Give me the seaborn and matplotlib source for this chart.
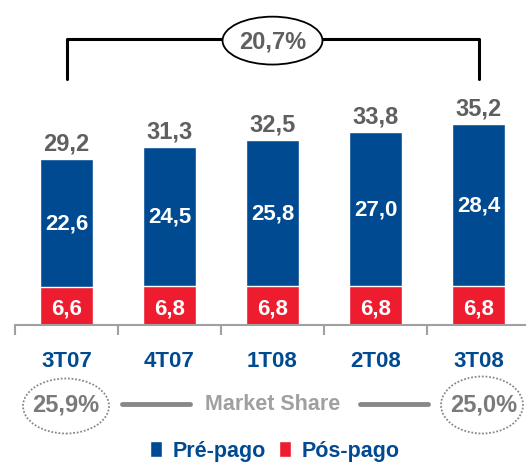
import matplotlib
matplotlib.use("Agg")
import matplotlib.pyplot as plt
from matplotlib.patches import Ellipse, Patch
from matplotlib.lines import Line2D
import seaborn as sns

# data
quarters = ["3T07", "4T07", "1T08", "2T08", "3T08"]
pre_pago = [22.6, 24.5, 25.8, 27.0, 28.4]
pos_pago = [6.6, 6.8, 6.8, 6.8, 6.8]
totals = [29.2, 31.3, 32.5, 33.8, 35.2]
growth_label = "20,7%"
share_first = "25,9%"
share_last = "25,0%"

BLUE = "#004a91"
RED = "#ed1c2e"
DARK_GRAY = "#5f5f5f"
LIGHT_GRAY = "#a0a0a0"


def fmt(v):
    return f"{v:.1f}".replace(".", ",")


def fx(x):
    return x / 526


def fy(y):
    return 1 - y / 464


sns.set_style("white")
plt.rcParams["font.family"] = ["Liberation Sans", "DejaVu Sans"]
plt.rcParams["font.weight"] = "bold"

fig = plt.figure(figsize=(5.26, 4.64), dpi=100)
ax = fig.add_axes([15 / 526, 138 / 464, 515 / 526, 326 / 464])

sns.barplot(x=quarters, y=totals, color=BLUE, saturation=1, width=0.515, ax=ax)
sns.barplot(x=quarters, y=pos_pago, color=RED, saturation=1, width=0.515, ax=ax)

ax.set_xlim(-0.5, 4.5)
ax.set_ylim(0, 57.2)
ax.set_yticks([])
ax.set_ylabel("")
for side in ["left", "right", "top"]:
    ax.spines[side].set_visible(False)
ax.spines["bottom"].set_color(LIGHT_GRAY)
ax.spines["bottom"].set_linewidth(1.5)

ax.set_xticks(range(len(quarters)))
ax.set_xticklabels(quarters, color=BLUE, fontsize=16, fontweight="bold")
ax.tick_params(axis="x", which="major", length=0, pad=18)
ax.set_xticks([i - 0.5 for i in range(len(quarters) + 1)], minor=True)
ax.tick_params(axis="x", which="minor", bottom=True, length=7, width=1.5,
               color=LIGHT_GRAY, direction="out")

for i in range(len(quarters)):
    ax.text(i, totals[i] + 2.8, fmt(totals[i]), ha="center", va="center",
            color=DARK_GRAY, fontsize=17, fontweight="bold")
    ax.text(i, (pos_pago[i] + totals[i]) / 2, fmt(pre_pago[i]), ha="center",
            va="center", color="white", fontsize=16, fontweight="bold")
    ax.text(i, pos_pago[i] / 2 - 0.4, fmt(pos_pago[i]), ha="center",
            va="center", color="white", fontsize=16, fontweight="bold")

# growth bracket
ax.plot([0, 0, 4, 4], [43.2, 50.2, 50.2, 43.2], color="black", lw=2.2,
        clip_on=False, zorder=3)
ax.add_patch(Ellipse((2.0, 49.9), 0.97, 8.4, facecolor="white",
                     edgecolor="black", lw=1.3, zorder=4, clip_on=False))
ax.text(2.0, 49.9, growth_label, ha="center", va="center", color=DARK_GRAY,
        fontsize=17, fontweight="bold", zorder=5)

# market share row
fig.add_artist(Ellipse((fx(66), fy(407)), 86 / 526, 55 / 464, transform=fig.transFigure,
                       facecolor="none", edgecolor="#888888", lw=1.3,
                       linestyle=(0, (1, 1))))
fig.add_artist(Ellipse((fx(482), fy(406)), 82 / 526, 57 / 464, transform=fig.transFigure,
                       facecolor="none", edgecolor="#888888", lw=1.3,
                       linestyle=(0, (1, 1))))
fig.text(fx(66), fy(405), share_first, ha="center", va="center",
         color="#7a7a7a", fontsize=17, fontweight="bold")
fig.text(fx(484), fy(405), share_last, ha="center", va="center",
         color="#7a7a7a", fontsize=17, fontweight="bold")
fig.text(fx(273), fy(405), "Market Share", ha="center", va="center",
         color=LIGHT_GRAY, fontsize=15.5, fontweight="bold")
fig.add_artist(Line2D([fx(122), fx(190)], [fy(405), fy(405)], color="#888888",
                      lw=3.5, transform=fig.transFigure))
fig.add_artist(Line2D([fx(360), fx(428)], [fy(405), fy(405)], color="#888888",
                      lw=3.5, transform=fig.transFigure))

# legend
handles = [Patch(facecolor=BLUE, label="Pré-pago"),
           Patch(facecolor=RED, label="Pós-pago")]
leg = fig.legend(handles=handles, loc="center", bbox_to_anchor=(fx(275), fy(452)),
                 ncol=2, frameon=False, handlelength=0.55, handleheight=0.8,
                 handletextpad=0.5, columnspacing=0.6,
                 prop={"size": 15.5, "weight": "bold"})
for t in leg.get_texts():
    t.set_color(BLUE)

fig.savefig("out.png", dpi=100)
